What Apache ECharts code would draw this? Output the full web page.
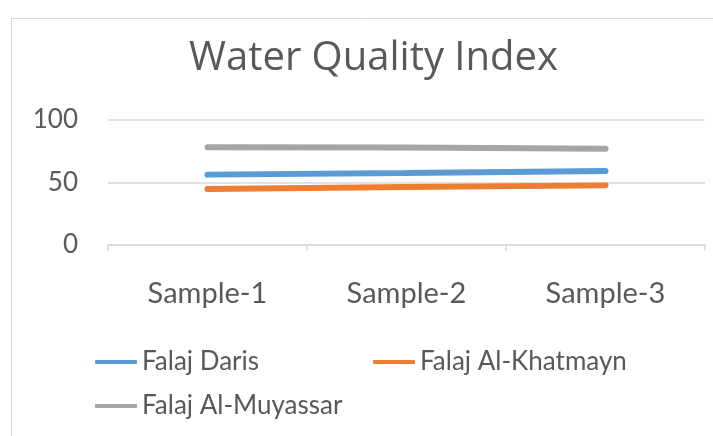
<!DOCTYPE html>
<html>
<head>
<meta charset="utf-8">
<script src="https://cdn.jsdelivr.net/npm/echarts@6/dist/echarts.min.js"></script>
<style>html,body{margin:0;padding:0;background:#fff}#c{width:713px;height:436px}</style>
</head>
<body>
<div id="c"></div>
<script>
const categories = ['Sample-1', 'Sample-2', 'Sample-3'];
const seriesNames = ['Falaj Daris', 'Falaj Al-Khatmayn', 'Falaj Al-Muyassar'];
const daris = [56.3, 57.6, 59.2];
const khatmayn = [44.8, 46.4, 47.7];
const muyassar = [78.2, 78.0, 77.0];
const colors = ['#5b9bd5', '#ed7d31', '#a5a5a5'];
const values = [daris, khatmayn, muyassar];

const FONT = 'Lato, sans-serif';
const chart = echarts.init(document.getElementById('c'));
const legendPos = [
  {left: 95, top: 349},
  {left: 373, top: 349},
  {left: 95, top: 393}
];
chart.setOption({
  animation: false,
  title: {
    text: 'Water Quality Index',
    left: 184,
    top: 34,
    textStyle: {fontFamily: '"Open Sans", sans-serif', fontSize: 40, fontWeight: 'normal', color: '#595959'}
  },
  graphic: [{
    type: 'rect', left: 9, top: 16, silent: true,
    shape: {width: 800, height: 500},
    style: {fill: 'none', stroke: '#d9d9d9', lineWidth: 1}
  }],
  legend: seriesNames.map((n, i) => ({
    data: [n], left: legendPos[i].left, top: legendPos[i].top,
    icon: 'roundRect', itemWidth: 42, itemHeight: 4, itemGap: 0,
    padding: 0,
    textStyle: {fontFamily: FONT, fontSize: 26, color: '#595959', padding: 0}
  })),
  grid: {left: 108, right: 8, top: 120, bottom: 191},
  xAxis: {
    type: 'category', data: categories, boundaryGap: true,
    axisLine: {lineStyle: {color: '#d9d9d9', width: 1.5}},
    axisTick: {show: true, length: 6, lineStyle: {color: '#d9d9d9', width: 1.5}},
    axisLabel: {fontFamily: FONT, fontSize: 29, color: '#595959', margin: 34}
  },
  yAxis: {
    type: 'value', min: 0, max: 100, interval: 50,
    axisLine: {show: false}, axisTick: {show: false},
    splitLine: {lineStyle: {color: '#d9d9d9', width: 1.5}},
    axisLabel: {fontFamily: FONT, fontSize: 26, color: '#595959', margin: 30}
  },
  series: seriesNames.map((n, i) => ({
    name: n, type: 'line', data: values[i],
    showSymbol: false, symbol: 'none',
    lineStyle: {color: colors[i], width: 6, cap: 'round'},
    itemStyle: {color: colors[i]}
  }))
});
</script>
</body>
</html>
